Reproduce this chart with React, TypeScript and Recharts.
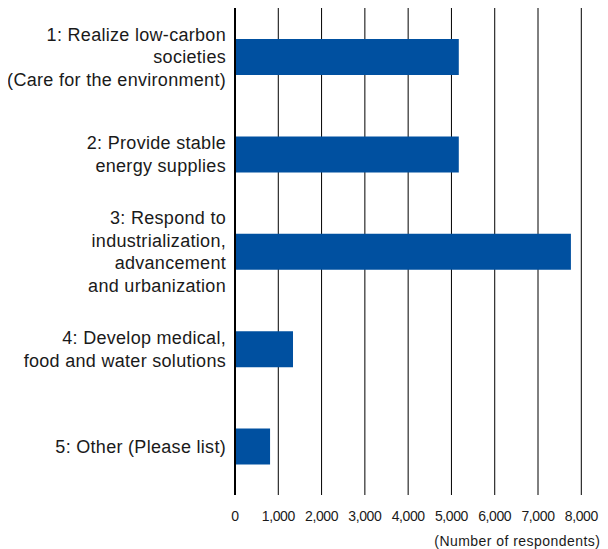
import React from "react";
import { BarChart, Bar, XAxis, YAxis, CartesianGrid, Label } from "recharts";

const categories = [
  "1: Realize low-carbon societies (Care for the environment)",
  "2: Provide stable energy supplies",
  "3: Respond to industrialization, advancement and urbanization",
  "4: Develop medical, food and water solutions",
  "5: Other (Please list)",
];

const categoryLines: string[][] = [
  ["1: Realize low-carbon", "societies", "(Care for the environment)"],
  ["2: Provide stable", "energy supplies"],
  ["3: Respond to", "industrialization,", "advancement", "and urbanization"],
  ["4: Develop medical,", "food and water solutions"],
  ["5: Other (Please list)"],
];

const respondents = [5170, 5170, 7760, 1340, 810];

const xTicks = [0, 1000, 2000, 3000, 4000, 5000, 6000, 7000, 8000];

const axisTitle = "(Number of respondents)";

const data = categories.map((name, i) => ({
  name,
  value: respondents[i],
  lines: categoryLines[i],
}));

const FONT = "'Liberation Sans', Arial, Helvetica, sans-serif";

const CategoryTick = (props: any) => {
  const { x, y, payload } = props;
  const idx = categories.indexOf(payload.value);
  const lines = categoryLines[idx] || [payload.value];
  const lh = 22.7;
  const n = lines.length;
  return (
    <text
      x={x}
      y={y}
      textAnchor="end"
      fontFamily={FONT}
      fontSize={18}
      letterSpacing={0.3}
      fill="#1a1a1a"
    >
      {lines.map((l, i) => (
        <tspan key={i} x={x} y={y + (i - (n - 1) / 2) * lh + 6.5}>
          {l}
        </tspan>
      ))}
    </text>
  );
};

export default function App() {
  return (
    <BarChart
      width={600}
      height={541}
      data={data}
      layout="vertical"
      margin={{ top: 0, right: 26.7, left: 0, bottom: 0 }}
    >
      <CartesianGrid horizontal={false} stroke="#000" strokeWidth={1} />
      <XAxis
        type="number"
        domain={[0, 8000]}
        ticks={xTicks}
        interval={0}
        axisLine={false}
        tickLine={false}
        height={54}
        tickMargin={10}
        tickFormatter={(v: number) => v.toLocaleString("en-US")}
        tick={{ fontSize: 14, fill: "#1a1a1a", fontFamily: FONT, letterSpacing: -0.4 }}
      >
        <Label
          content={({ viewBox }: any) => (
            <text
              x={viewBox.x + viewBox.width + 19}
              y={viewBox.y + 51}
              textAnchor="end"
              fontFamily={FONT}
              fontSize={14}
              letterSpacing={0.45}
              fill="#1a1a1a"
            >
              {axisTitle}
            </text>
          )}
        />
      </XAxis>
      <YAxis
        type="category"
        dataKey="name"
        width={227}
        axisLine={{ stroke: "#000", strokeWidth: 2 }}
        tickLine={false}
        tickMargin={3}
        interval={0}
        tick={<CategoryTick />}
      />
      <Bar dataKey="value" fill="#0050a0" barSize={36} isAnimationActive={false} />
    </BarChart>
  );
}
